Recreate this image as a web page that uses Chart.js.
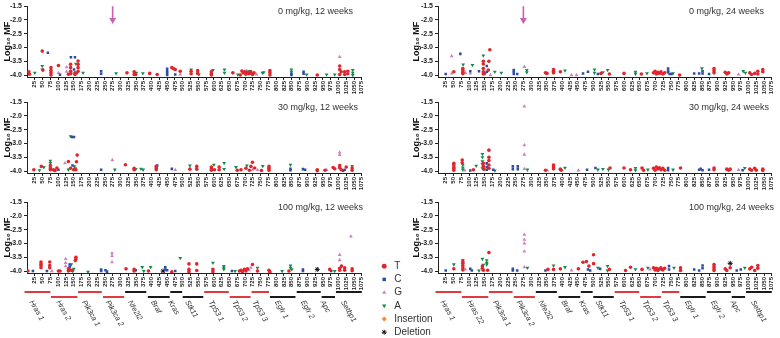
<!DOCTYPE html>
<html>
<head>
<meta charset="utf-8">
<script src="https://cdn.jsdelivr.net/npm/chart.js@4.4.1/dist/chart.umd.min.js"></script>
<style>
body { margin: 0; background: #fff; overflow: hidden; }
#wrap { position: relative; width: 780px; height: 338px; }
canvas { position: absolute; }
</style>
</head>
<body>
<div id="wrap">
  <canvas id="legendBox"></canvas>
  <canvas id="p1"></canvas>
  <canvas id="p2"></canvas>
  <canvas id="p3"></canvas>
  <canvas id="p4"></canvas>
  <canvas id="p5"></canvas>
  <canvas id="p6"></canvas>
</div>
<script>
// amplicon position ticks and Log10 MF ticks
const xTicks = Array.from({ length: 43 }, (_, i) => 25 + i * 25)
const yTicks = [-4.0, -3.5, -3.0, -2.5, -2.0, -1.5]
const arrowAt = 275

// gene amplicons under the bottom panels
const genesLeft = ['Hras 1', 'Hras 2', 'Pik3ca 1', 'Pik3ca 2', 'Nfe2l2', 'Braf', 'Kras', 'Stk11', 'Tp53 1', 'Tp53 2', 'Tp53 3', 'Egfr 1', 'Egfr 2', 'Apc', 'Setbp1']
const genesRight = ['Hras 1', 'Hras 22', 'Pik3ca 1', 'Pik3ca 2', 'Nfe2l2', 'Braf', 'Kras', 'Stk11', 'Tp53 1', 'Tp53 2', 'Tp53 3', 'Egfr 1', 'Egfr 2', 'Apc', 'Setbp1']
const geneStart = [-8, 77, 164, 244, 315, 388, 460, 500, 569, 651, 721, 780, 866, 946, 992]
const geneEnd = [75, 162, 240, 312, 383, 458, 498, 566, 648, 718, 777, 862, 943, 989, 1075]
const geneRed = [1, 1, 1, 1, 0, 0, 0, 0, 1, 1, 1, 0, 0, 0, 0]

// 0 mg/kg, 12 weeks
const t0w12 = [[6,-3.88],[8,-3.97],[49,-3.13],[51,-3.82],[77,-3.73],[77,-3.83],[77,-3.92],[77,-4.0],[101,-3.65],[133,-3.97],[140,-3.61],[140,-3.73],[140,-3.86],[140,-3.95],[154,-3.92],[154,-3.98],[164,-3.49],[164,-3.61],[164,-3.73],[164,-3.86],[321,-3.92],[344,-3.88],[344,-3.98],[349,-3.98],[394,-3.94],[418,-3.98],[465,-3.73],[471,-3.77],[476,-3.8],[492,-3.86],[527,-3.86],[527,-3.95],[548,-3.84],[548,-3.94],[592,-3.88],[592,-3.95],[592,-4.0],[661,-3.92],[685,-4.0],[690,-3.85],[694,-3.92],[699,-3.88],[703,-3.97],[708,-3.9],[713,-3.95],[718,-3.87],[724,-3.98],[729,-3.92],[780,-3.84],[780,-3.92],[780,-4.0],[932,-4.0],[1004,-3.67],[1004,-3.8],[1009,-3.88],[1004,-3.98],[1020,-3.88],[1020,-3.98],[1030,-3.86],[1030,-3.95]]
const c0w12 = [[67,-3.19],[106,-3.99],[141,-3.35],[154,-3.35],[151,-3.8],[238,-3.86],[238,-3.95],[450,-3.77],[450,-3.86],[450,-3.93],[450,-4.0],[476,-3.98],[720,-3.93],[849,-3.95],[849,-4.0],[888,-3.88],[888,-3.95]]
const g0w12 = [[101,-3.92],[127,-3.71],[127,-3.88],[143,-3.92],[492,-3.98],[705,-3.84],[737,-3.98],[1004,-3.34]]
const a0w12 = [[25,-3.92],[49,-3.67],[49,-3.8],[157,-3.59],[161,-3.93],[180,-3.92],[286,-3.94],[351,-3.92],[372,-3.94],[527,-3.8],[552,-3.98],[597,-3.82],[634,-3.8],[634,-3.92],[677,-3.98],[715,-3.86],[756,-3.92],[760,-3.9],[849,-3.8],[849,-3.88],[898,-3.98],[962,-3.98],[988,-3.98],[1046,-3.82],[1046,-3.92],[1046,-4.0]]

// 30 mg/kg, 12 weeks
const t30w12 = [[22,-3.95],[46,-3.83],[75,-3.8],[75,-3.89],[75,-3.95],[85,-3.95],[90,-3.98],[96,-3.89],[133,-3.65],[140,-3.9],[150,-3.95],[157,-3.95],[159,-3.66],[161,-3.42],[316,-3.77],[344,-3.9],[344,-3.95],[415,-3.83],[415,-3.89],[415,-3.95],[523,-3.93],[545,-3.83],[545,-3.93],[592,-3.85],[592,-3.92],[592,-3.97],[602,-3.95],[617,-3.85],[617,-3.95],[675,-3.97],[687,-3.95],[703,-3.9],[714,-3.97],[719,-3.83],[724,-3.68],[731,-3.89],[753,-3.98],[777,-3.83],[777,-3.9],[777,-3.97],[932,-3.95],[932,-3.99],[957,-3.97],[983,-3.87],[988,-3.92],[1004,-3.8],[1004,-3.88],[1009,-3.95],[1025,-3.85],[1044,-3.89],[1044,-3.97]]
const c30w12 = [[101,-3.95],[145,-2.76],[151,-2.76],[146,-3.8],[238,-3.95],[418,-3.8],[465,-3.92],[846,-3.92],[846,-3.97],[886,-3.93],[893,-3.95],[1015,-3.99],[1020,-3.95]]
const g30w12 = [[122,-3.71],[274,-3.6],[476,-3.96],[724,-3.95],[740,-3.96],[962,-3.96],[1004,-3.32],[1004,-3.41]]
const a30w12 = [[40,-3.97],[54,-3.86],[75,-3.63],[75,-3.71],[133,-3.95],[140,-2.74],[152,-3.83],[155,-3.9],[282,-3.95],[349,-3.93],[366,-3.92],[373,-3.95],[523,-3.8],[600,-3.77],[633,-3.71],[633,-3.93],[671,-3.86],[706,-3.8],[757,-3.82],[846,-3.77],[1044,-3.82]]

// 100 mg/kg, 12 weeks
const t100w12 = [[3,-4.0],[45,-3.67],[45,-3.74],[45,-3.8],[45,-3.88],[73,-3.67],[73,-3.8],[73,-3.88],[101,-4.0],[106,-4.0],[133,-3.92],[133,-4.0],[140,-3.96],[145,-3.98],[155,-3.62],[157,-3.5],[157,-3.56],[318,-3.92],[344,-3.94],[344,-4.0],[390,-4.0],[465,-4.03],[520,-3.74],[520,-3.94],[520,-4.02],[545,-3.74],[545,-3.98],[597,-3.94],[597,-4.02],[682,-4.0],[687,-3.97],[692,-4.02],[698,-3.94],[703,-4.0],[708,-3.92],[724,-3.76],[740,-4.0],[777,-3.97],[780,-4.03],[841,-4.0],[972,-3.94],[1004,-3.9],[1004,-3.97],[1010,-3.82],[1020,-3.88],[1020,-3.97],[1044,-3.92],[1044,-3.99]]
const c100w12 = [[19,-4.0],[64,-4.0],[137,-3.76],[137,-3.85],[238,-3.94],[238,-4.0],[252,-3.97],[257,-4.02],[349,-3.97],[444,-3.86],[444,-3.94],[450,-3.97],[476,-4.0],[658,-4.0],[886,-3.94],[886,-4.0],[977,-4.0]]
const g100w12 = [[80,-4.0],[124,-3.56],[124,-3.7],[124,-3.82],[273,-3.35],[273,-3.45],[273,-3.68],[713,-3.97],[719,-3.88],[1004,-3.41],[1004,-3.6],[1040,-2.74]]
const a100w12 = [[142,-3.76],[147,-4.0],[150,-3.92],[196,-4.03],[370,-3.86],[375,-4.0],[397,-3.86],[492,-3.53],[597,-3.7],[632,-3.82],[632,-3.88],[632,-3.94],[668,-4.0],[740,-3.88],[819,-4.0],[846,-3.8],[846,-3.88],[850,-3.94],[988,-4.0]]
const d100w12 = [[437,-4.0],[932,-3.94]]

// 0 mg/kg, 24 weeks
const t0w24 = [[51,-3.88],[80,-3.76],[80,-3.83],[80,-3.9],[80,-3.95],[146,-3.5],[146,-3.6],[146,-3.76],[146,-3.88],[146,-3.96],[162,-3.82],[164,-3.5],[167,-3.08],[346,-3.92],[351,-3.94],[372,-3.8],[372,-3.86],[372,-3.92],[394,-3.88],[525,-3.94],[552,-3.96],[599,-3.94],[655,-3.96],[694,-3.92],[699,-3.86],[703,-3.96],[708,-3.9],[713,-3.94],[718,-3.88],[724,-3.96],[730,-3.92],[778,-4.0],[889,-3.76],[889,-3.84],[889,-3.92],[925,-3.9],[930,-3.96],[936,-3.92],[1004,-3.92],[1010,-3.98],[1020,-3.94],[1030,-3.86],[1030,-3.96],[1046,-3.8],[1046,-3.88]]
const c0w24 = [[25,-3.96],[72,-3.23],[104,-3.86],[132,-3.86],[157,-3.67],[157,-3.88],[244,-3.82],[244,-3.88],[244,-3.96],[255,-3.96],[467,-3.94],[483,-3.88],[515,-3.96],[741,-3.76],[741,-3.84],[741,-3.9],[746,-3.96],[752,-3.96],[825,-3.94],[841,-3.94],[852,-3.86],[852,-3.94],[873,-3.96]]
const g0w24 = [[44,-3.31],[44,-3.94],[88,-3.92],[104,-3.94],[169,-4.0],[278,-3.7],[430,-4.0],[446,-4.0],[968,-3.98]]
const a0w24 = [[81,-3.62],[111,-3.64],[146,-3.29],[152,-3.94],[183,-3.88],[204,-3.92],[286,-3.82],[286,-3.9],[409,-3.84],[504,-3.8],[504,-3.92],[531,-3.9],[546,-3.82],[636,-3.88],[636,-3.96],[673,-3.94],[757,-3.94],[850,-3.76],[983,-3.86],[990,-3.92]]

// 30 mg/kg, 24 weeks
const t30w24 = [[51,-3.72],[51,-3.78],[51,-3.85],[51,-3.9],[51,-3.97],[78,-3.6],[78,-3.7],[114,-3.95],[146,-3.72],[146,-3.83],[148,-3.93],[164,-3.24],[164,-3.5],[164,-3.62],[164,-3.78],[164,-3.9],[346,-3.97],[372,-3.78],[372,-3.85],[372,-3.92],[394,-3.93],[397,-3.97],[554,-3.89],[599,-3.89],[620,-3.95],[657,-3.89],[662,-3.97],[694,-3.9],[699,-3.97],[703,-3.85],[708,-3.92],[713,-3.88],[718,-3.95],[724,-3.9],[730,-3.97],[781,-3.89],[889,-3.89],[889,-3.95],[930,-3.93],[936,-3.97],[941,-3.93],[1004,-3.93],[1010,-3.97],[1020,-3.9],[1025,-3.97],[1046,-3.93],[1046,-3.98]]
const c30w24 = [[104,-3.98],[157,-3.72],[157,-3.85],[157,-3.95],[178,-3.95],[241,-3.83],[241,-3.93],[257,-3.83],[257,-3.93],[480,-3.95],[507,-3.89],[741,-3.89],[741,-3.97],[841,-3.95],[846,-3.92],[852,-3.97],[873,-3.95],[981,-3.97]]
const g30w24 = [[86,-3.98],[278,-1.65],[278,-3.06],[278,-3.4],[278,-3.92],[352,-3.98],[452,-3.98],[968,-3.96]]
const a30w24 = [[80,-3.77],[80,-3.87],[80,-3.95],[123,-3.81],[143,-3.38],[143,-3.5],[143,-3.65],[143,-3.75],[143,-3.9],[183,-3.98],[288,-3.95],[409,-3.88],[515,-3.95],[531,-3.93],[549,-3.95],[636,-3.89],[636,-3.97],[676,-3.95],[757,-3.95],[988,-3.89]]

// 100 mg/kg, 24 weeks
const t100w24 = [[51,-3.92],[80,-3.65],[80,-3.72],[80,-3.8],[80,-3.88],[80,-3.96],[143,-3.82],[143,-3.9],[146,-3.97],[160,-3.97],[164,-3.33],[354,-3.94],[372,-3.94],[394,-3.92],[452,-3.92],[467,-3.68],[478,-3.65],[486,-3.82],[501,-3.73],[501,-3.41],[552,-3.94],[604,-3.98],[620,-3.86],[657,-3.94],[694,-3.88],[699,-3.96],[703,-3.9],[708,-3.98],[713,-3.92],[718,-3.88],[724,-3.96],[730,-3.9],[781,-3.88],[781,-3.98],[889,-3.76],[889,-3.84],[889,-3.92],[889,-3.98],[925,-3.92],[930,-3.98],[941,-3.88],[1004,-3.92],[1010,-3.86],[1020,-3.98],[1030,-3.8],[1030,-3.9]]
const c100w24 = [[25,-3.98],[104,-3.92],[109,-3.98],[241,-3.92],[241,-3.98],[255,-3.98],[346,-3.98],[483,-3.94],[490,-3.98],[522,-3.92],[720,-3.94],[744,-3.82],[744,-3.94],[825,-3.94],[841,-3.98],[852,-3.8],[852,-3.9],[962,-3.98],[975,-3.94]]
const g100w24 = [[88,-3.94],[278,-2.68],[278,-2.86],[278,-3.0],[278,-3.29],[278,-3.86],[430,-3.98],[683,-3.94],[705,-3.94]]
const a100w24 = [[51,-3.76],[80,-3.6],[132,-3.98],[143,-3.56],[146,-3.77],[157,-3.61],[157,-3.7],[157,-3.76],[288,-3.88],[372,-3.8],[409,-3.86],[515,-3.88],[546,-3.82],[546,-3.98],[636,-3.94],[676,-3.88],[760,-3.88],[988,-3.88]]
const d100w24 = [[941,-3.72]]


Chart.defaults.font.family = 'Arial, "Liberation Sans", sans-serif'

const series = [
    { key: 'T', label: 'T', color: '#e0262c', style: 'circle', rot: 0, r: 1.8 },
    { key: 'C', label: 'C', color: '#2c4da3', style: 'rect', rot: 0, r: 1.8 },
    { key: 'G', label: 'G', color: '#cc80c2', style: 'triangle', rot: 0, r: 2.2 },
    { key: 'A', label: 'A', color: '#17894b', style: 'triangle', rot: 180, r: 2.2 },
    { key: 'I', label: 'Insertion', color: '#f08a3c', style: 'rectRot', rot: 0, r: 2 },
    { key: 'D', label: 'Deletion', color: '#111111', style: 'star', rot: 0, r: 2.5 },
]

const panels = [
    { id: 'p1', col: 0, row: 0, title: '0 mg/kg, 12 weeks', arrow: true, sets: { T: t0w12, C: c0w12, G: g0w12, A: a0w12 } },
    { id: 'p2', col: 0, row: 1, title: '30 mg/kg, 12 weeks', sets: { T: t30w12, C: c30w12, G: g30w12, A: a30w12 } },
    { id: 'p3', col: 0, row: 2, title: '100 mg/kg, 12 weeks', genes: genesLeft, sets: { T: t100w12, C: c100w12, G: g100w12, A: a100w12, D: d100w12 } },
    { id: 'p4', col: 1, row: 0, title: '0 mg/kg, 24 weeks', arrow: true, sets: { T: t0w24, C: c0w24, G: g0w24, A: a0w24 } },
    { id: 'p5', col: 1, row: 1, title: '30 mg/kg, 24 weeks', sets: { T: t30w24, C: c30w24, G: g30w24, A: a30w24 } },
    { id: 'p6', col: 1, row: 2, title: '100 mg/kg, 24 weeks', genes: genesRight, sets: { T: t100w24, C: c100w24, G: g100w24, A: a100w24, D: d100w24 } },
]

const colLeft = [0, 411]
const colWidth = [370, 369]
const rowTop = [0, 96, 196]
const rowHeight = [97, 97, 142]


function dataset(s, arr) {
    return {
        label: s.label,
        data: arr.map(([x, y]) => ({ x, y })),
        showLine: false,
        pointStyle: s.style,
        pointRotation: s.rot,
        pointRadius: s.r,
        pointBackgroundColor: s.color,
        pointBorderColor: s.color,
        pointBorderWidth: s.style === 'star' ? 1 : 0,
        backgroundColor: s.color,
        borderColor: s.color,
    }
}

const panelTitle = {
    id: 'panelTitle',
    afterDraw(chart, args, opts) {
        const { ctx, chartArea } = chart
        ctx.save()
        ctx.font = '9px Arial, "Liberation Sans", sans-serif'
        ctx.fillStyle = '#333'
        ctx.textAlign = 'left'
        ctx.textBaseline = 'middle'
        ctx.fillText(opts.text, chartArea.left + 251, chartArea.top + 5)
        ctx.restore()
    }
}

const arrowMark = {
    id: 'arrowMark',
    afterDraw(chart, args, opts) {
        if (opts.at == null) return
        const { ctx } = chart
        const x = chart.scales.x.getPixelForValue(opts.at)
        const y0 = chart.scales.y.getPixelForValue(-1.5)
        const y1 = chart.scales.y.getPixelForValue(-2.15)
        ctx.save()
        ctx.strokeStyle = '#cf5fb2'
        ctx.fillStyle = '#cf5fb2'
        ctx.lineWidth = 1.6
        ctx.beginPath()
        ctx.moveTo(x, y0)
        ctx.lineTo(x, y1 - 4)
        ctx.stroke()
        ctx.beginPath()
        ctx.moveTo(x - 3.5, y1 - 6)
        ctx.lineTo(x + 3.5, y1 - 6)
        ctx.lineTo(x, y1)
        ctx.closePath()
        ctx.fill()
        ctx.restore()
    }
}

const geneTrack = {
    id: 'geneTrack',
    afterDraw(chart, args, opts) {
        if (!opts.names) return
        const { ctx, chartArea } = chart
        const xs = chart.scales.x
        ctx.save()
        opts.names.forEach((name, i) => {
            const a = xs.getPixelForValue(geneStart[i])
            const b = xs.getPixelForValue(geneEnd[i])
            const y = chartArea.bottom + (i % 2 ? 24 : 19)
            ctx.strokeStyle = geneRed[i] ? '#e03a3e' : '#1a1a1a'
            ctx.lineWidth = 2
            ctx.beginPath()
            ctx.moveTo(a, y)
            ctx.lineTo(b, y)
            ctx.stroke()
            ctx.save()
            ctx.translate((a + b) / 2 - 3, chartArea.bottom + 26)
            ctx.rotate(Math.PI / 3)
            ctx.font = 'italic 7.5px Arial, "Liberation Sans", sans-serif'
            ctx.fillStyle = '#333'
            ctx.textAlign = 'left'
            ctx.textBaseline = 'top'
            ctx.fillText(name, 0, 0)
            ctx.restore()
        })
        ctx.restore()
    }
}


function makePanel(p) {
    const cv = document.getElementById(p.id)
    cv.width = colWidth[p.col]
    cv.height = rowHeight[p.row]
    cv.style.left = colLeft[p.col] + 'px'
    cv.style.top = rowTop[p.row] + 'px'

    const datasets = []
    series.forEach(s => {
        if (p.sets[s.key]) datasets.push(dataset(s, p.sets[s.key]))
    })

    new Chart(cv, {
        type: 'scatter',
        data: { datasets },
        plugins: [panelTitle, arrowMark, geneTrack],
        options: {
            responsive: false,
            animation: false,
            layout: { padding: { top: 5, right: 4, left: 0, bottom: p.row === 2 ? 45 : 0 } },
            plugins: {
                legend: { display: false },
                tooltip: { enabled: false },
                panelTitle: { text: p.title },
                arrowMark: { at: p.arrow ? arrowAt : null },
                geneTrack: { names: p.genes || null },
            },
            scales: {
                x: {
                    type: 'linear',
                    min: 0,
                    max: 1075,
                    afterBuildTicks: s => { s.ticks = xTicks.map(v => ({ value: v })) },
                    afterFit: s => { s.height = 20 },
                    grid: { display: true, drawOnChartArea: false, drawTicks: true, tickLength: 3, tickColor: '#222' },
                    border: { display: true, color: '#222', width: 1 },
                    ticks: {
                        autoSkip: false, minRotation: 90, maxRotation: 90, padding: 1,
                        color: '#222', font: { size: 6, weight: 'bold' },
                        callback: v => String(v)
                    }
                },
                y: {
                    type: 'linear',
                    min: -4.07,
                    max: -1.5,
                    afterBuildTicks: s => { s.ticks = yTicks.map(v => ({ value: v })) },
                    afterFit: s => { s.width = 27 },
                    grid: { display: true, drawOnChartArea: false, drawTicks: true, tickLength: 3, tickColor: '#222' },
                    border: { display: true, color: '#222', width: 1 },
                    ticks: {
                        padding: 2, color: '#222', font: { size: 7, weight: 'bold' },
                        callback: v => v.toFixed(1)
                    },
                    title: {
                        display: true,
                        text: 'Log₁₀ MF',
                        color: '#111',
                        font: { size: 9, weight: 'bold' },
                        padding: { top: p.col === 0 ? 2.5 : 0, bottom: 0 }
                    }
                }
            }
        }
    })
}

panels.forEach(makePanel)

// legend for base changes
const lg = document.getElementById('legendBox')
lg.width = 120
lg.height = 100
lg.style.left = '376px'
lg.style.top = '258px'
new Chart(lg, {
    type: 'scatter',
    data: { datasets: series.map(s => dataset(s, [])) },
    options: {
        responsive: false,
        animation: false,
        layout: { padding: 0 },
        scales: { x: { display: false }, y: { display: false } },
        plugins: {
            tooltip: { enabled: false },
            legend: {
                display: true,
                position: 'left',
                align: 'start',
                labels: {
                    usePointStyle: true, boxWidth: 10, boxHeight: 3.5, padding: 3.2,
                    color: '#333', font: { size: 10 }
                }
            }
        }
    }
})
</script>
</body>
</html>
